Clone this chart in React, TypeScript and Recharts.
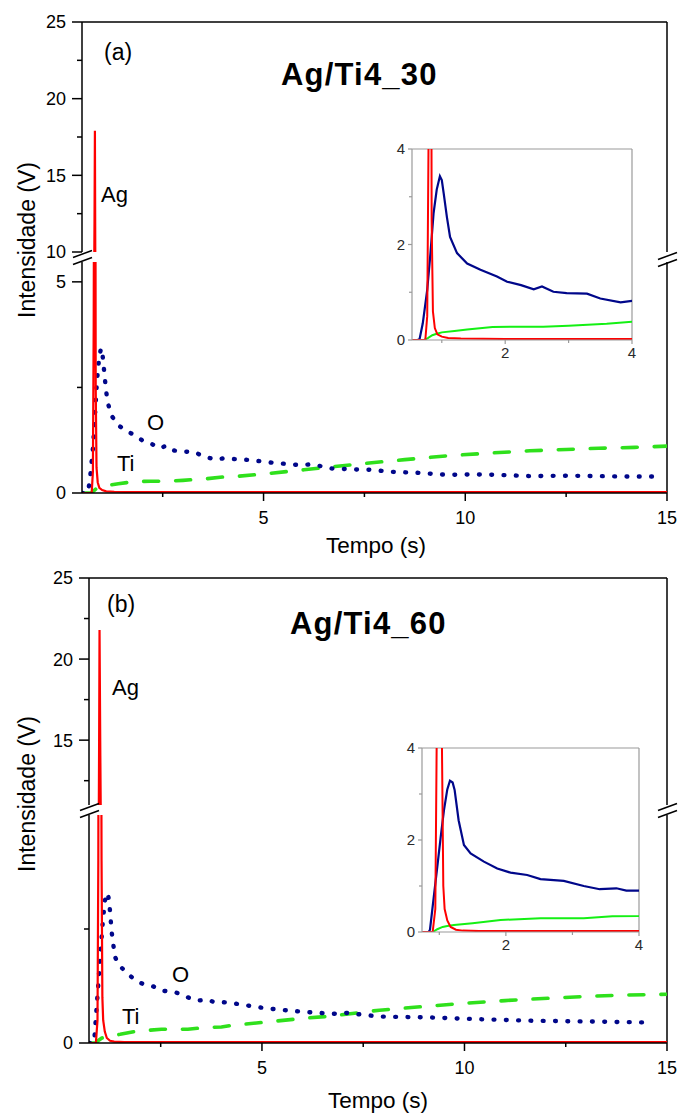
import React from 'react';
import { LineChart, Line, XAxis, YAxis, ReferenceLine } from 'recharts';

const FONT = '"Liberation Sans", Arial, Helvetica, sans-serif';
const W = 678;

// ---------- Panel (a) Ag/Ti4_30 ----------
const agA_t = [0.5, 0.74, 0.77, 0.79, 0.81, 0.82, 0.83, 0.84, 0.86, 0.89, 0.93, 1.0, 1.1, 1.3, 2, 4, 6, 8, 10, 12, 14, 15];
const agA_v = [0, 0, 0.5, 4, 12, 17.9, 9, 2.5, 0.6, 0.25, 0.12, 0.07, 0.04, 0.03, 0.02, 0.02, 0.02, 0.02, 0.02, 0.02, 0.02, 0.02];

const oA_t = [0.5, 0.62, 0.65, 0.7, 0.77, 0.82, 0.87, 0.92, 0.97, 1.0, 1.03, 1.08, 1.13, 1.24, 1.4, 1.61, 1.87, 2.03, 2.25, 2.45, 2.58, 2.76, 2.97, 3.29, 3.5, 3.82, 4.0, 4.68, 5.2, 5.9, 6.2, 6.7, 7.2, 7.65, 8.2, 8.8, 9.55, 10.2, 10.8, 11.6, 12.5, 13.3, 14.0, 14.8];
const oA_v = [0, 0, 0.02, 0.35, 1.05, 1.8, 2.65, 3.15, 3.43, 3.35, 3.07, 2.58, 2.16, 1.82, 1.6, 1.47, 1.33, 1.22, 1.15, 1.06, 1.12, 1.01, 0.98, 0.97, 0.87, 0.79, 0.82, 0.78, 0.72, 0.66, 0.68, 0.58, 0.56, 0.55, 0.5, 0.48, 0.43, 0.44, 0.43, 0.4, 0.41, 0.4, 0.39, 0.39];

const tiA_t = [0.5, 0.72, 0.78, 0.85, 0.92, 1.0, 1.2, 1.4, 1.8, 2.2, 2.6, 3.0, 3.6, 4.0, 4.3, 5.0, 6.0, 6.7, 7.5, 8.5, 9.55, 10.5, 11.6, 12.5, 13.3, 14.2, 15];
const tiA_v = [0, 0, 0.04, 0.1, 0.13, 0.16, 0.19, 0.22, 0.27, 0.28, 0.28, 0.3, 0.34, 0.38, 0.39, 0.45, 0.55, 0.62, 0.7, 0.79, 0.88, 0.94, 1.0, 1.03, 1.06, 1.08, 1.11];

// ---------- Panel (b) Ag/Ti4_60 ----------
const agB_t = [0.73, 0.9, 0.94, 0.96, 0.98, 0.99, 1.01, 1.04, 1.06, 1.08, 1.12, 1.17, 1.25, 1.35, 1.6, 2, 4, 6, 8, 10, 12, 14, 15];
const agB_v = [0, 0, 0.5, 4, 15, 21.8, 14, 4, 1.0, 0.5, 0.25, 0.11, 0.05, 0.03, 0.02, 0.02, 0.02, 0.02, 0.02, 0.02, 0.02, 0.02, 0.02];

const oB_t = [0.73, 0.84, 0.86, 0.92, 0.97, 1.02, 1.07, 1.12, 1.16, 1.2, 1.23, 1.29, 1.37, 1.47, 1.67, 1.87, 2.07, 2.32, 2.52, 2.87, 3.17, 3.41, 3.66, 3.81, 4.0, 4.29, 5.1, 5.94, 6.75, 7.09, 7.9, 8.5, 9.14, 10.4, 11.6, 12.4, 13.2, 14.56];
const oB_v = [0, 0, 0.05, 0.8, 1.42, 2.05, 2.65, 3.1, 3.29, 3.25, 3.09, 2.43, 1.89, 1.71, 1.53, 1.38, 1.29, 1.24, 1.15, 1.11, 1.0, 0.93, 0.95, 0.9, 0.9, 0.87, 0.76, 0.69, 0.64, 0.66, 0.58, 0.57, 0.56, 0.52, 0.49, 0.48, 0.47, 0.45];

const tiB_t = [0.73, 0.9, 0.97, 1.05, 1.12, 1.22, 1.5, 1.92, 2.52, 3.17, 3.6, 4.0, 4.29, 5.0, 6.0, 6.7, 7.9, 9.0, 9.96, 11.0, 11.6, 13.2, 14.0, 15];
const tiB_v = [0, 0, 0.06, 0.11, 0.13, 0.15, 0.19, 0.26, 0.3, 0.3, 0.34, 0.35, 0.39, 0.45, 0.54, 0.59, 0.72, 0.8, 0.87, 0.93, 0.96, 1.03, 1.05, 1.07];

// ---------- ticks ----------
const mainXTicks = [2.5, 5, 7.5, 10, 12.5, 15];
const mainXMajors = [5, 10, 15];
const upATicks = [10, 12.5, 15, 17.5, 20, 22.5, 25];
const upAMajors = [10, 15, 20, 25];
const loATicks = [0, 2.5, 5];
const loAMajors = [0, 5];
const upBTicks = [12.5, 15, 17.5, 20, 22.5, 25];
const upBMajors = [15, 20, 25];
const loBTicks = [0, 2.5];
const loBMajors = [0];
const insetXTicks = [1, 2, 3, 4];
const insetXMajors = [2, 4];
const insetYTicks = [0, 1, 2, 3, 4];
const insetYMajors = [0, 2, 4];

type Pt = { t: number; v: number };
const zip = (t: number[], v: number[]): Pt[] => t.map((x, i) => ({ t: x, v: v[i] }));

const dataA = { ag: zip(agA_t, agA_v), o: zip(oA_t, oA_v), ti: zip(tiA_t, tiA_v) };
const dataB = { ag: zip(agB_t, agB_v), o: zip(oB_t, oB_v), ti: zip(tiB_t, tiB_v) };

const RED = '#ff0000';
const BLUE = '#00078a';
const GREEN_MAIN = '#2fe01c';
const GREEN_INSET = '#14f014';

function makeYTick(majors: number[], majorLen: number, minorLen: number, gap: number, fs: number, stroke: string, fill: string, sw: number) {
  return (props: any) => {
    const { x, y, payload } = props;
    const v = payload.value;
    const major = majors.includes(v);
    return (
      <g>
        <line x1={x - (major ? majorLen : minorLen)} x2={x} y1={y} y2={y} stroke={stroke} strokeWidth={sw} />
        {major && (
          <text x={x - gap} y={y + fs * 0.36} textAnchor="end" fontSize={fs} fill={fill} fontFamily={FONT}>
            {v}
          </text>
        )}
      </g>
    );
  };
}

function makeXTick(majors: number[], majorLen: number, minorLen: number, base: number, fs: number, stroke: string, fill: string, sw: number) {
  return (props: any) => {
    const { x, y, payload } = props;
    const v = payload.value;
    const major = majors.includes(v);
    return (
      <g>
        <line x1={x} x2={x} y1={y} y2={y + (major ? majorLen : minorLen)} stroke={stroke} strokeWidth={sw} />
        {major && (
          <text x={x} y={y + base} textAnchor="middle" fontSize={fs} fill={fill} fontFamily={FONT}>
            {v}
          </text>
        )}
      </g>
    );
  };
}

interface SegProps {
  top: number;
  bottom: number;
  left: number;
  right: number;
  xDomain: [number, number];
  yDomain: [number, number];
  yTicks: number[];
  yMajors: number[];
  showX: boolean;
  topBorder: boolean;
  data: { ag: Pt[]; o: Pt[]; ti: Pt[] };
  agOnly: boolean;
}

function Segment(p: SegProps) {
  const padTop = 16;
  const xH = 60;
  const padBottom = p.showX ? 0 : 16;
  const h = p.bottom - p.top + padTop + padBottom + (p.showX ? xH : 0);
  const yTick = makeYTick(p.yMajors, 10, 5, 16, 18, '#000', '#000', 1.5);
  const xTick = makeXTick(mainXMajors, 8, 4, 31, 18, '#000', '#000', 1.5);
  const lines: React.ReactNode[] = [];
  if (!p.agOnly) {
    lines.push(
      <Line key="ti" data={p.data.ti} dataKey="v" type="linear" stroke={GREEN_MAIN} strokeWidth={3.6}
        strokeDasharray="15 17" strokeLinecap="round" dot={false} activeDot={false} isAnimationActive={false} />
    );
    lines.push(
      <Line key="o" data={p.data.o} dataKey="v" type="linear" stroke={BLUE} strokeWidth={4.4}
        strokeDasharray="0.8 11.5" strokeLinecap="round" dot={false} activeDot={false} isAnimationActive={false} />
    );
  }
  lines.push(
    <Line key="ag" data={p.data.ag} dataKey="v" type="linear" stroke={RED} strokeWidth={2.2}
      dot={false} activeDot={false} isAnimationActive={false} />
  );
  return (
    <div style={{ position: 'absolute', left: 0, top: p.top - padTop, width: W, height: h }}>
      <LineChart width={W} height={h} margin={{ top: padTop, right: W - p.right, bottom: padBottom, left: 0 }}>
        <XAxis type="number" dataKey="t" domain={p.xDomain} allowDataOverflow hide={!p.showX}
          height={p.showX ? xH : 0} ticks={mainXTicks} interval={0} tickSize={0} tickMargin={0}
          tickLine={false} tick={xTick} axisLine={{ stroke: '#000', strokeWidth: 1.5 }} />
        <YAxis type="number" domain={p.yDomain} allowDataOverflow width={p.left} ticks={p.yTicks}
          interval={0} tickSize={0} tickMargin={0} tickLine={false} tick={yTick}
          axisLine={{ stroke: '#000', strokeWidth: 1.5 }} />
        {p.topBorder && <ReferenceLine y={p.yDomain[1]} stroke="#000" strokeWidth={1.5} />}
        <ReferenceLine x={p.xDomain[1]} stroke="#000" strokeWidth={1.5} />
        {lines}
      </LineChart>
    </div>
  );
}

interface InsetProps {
  left: number;
  right: number;
  top: number;
  bottom: number;
  xDomain: [number, number];
  data: { ag: Pt[]; o: Pt[]; ti: Pt[] };
}

function Inset(p: InsetProps) {
  const padL = 40;
  const padT = 10;
  const padR = 10;
  const xH = 26;
  const w = p.right - p.left + padL + padR;
  const h = p.bottom - p.top + padT + xH;
  const GRAY = '#9a9a9a';
  const yTick = makeYTick(insetYMajors, 4, 3, 7, 15, GRAY, '#2a2a2a', 1.2);
  const xTick = makeXTick(insetXMajors, 4, 3, 18, 15, GRAY, '#2a2a2a', 1.2);
  return (
    <div style={{ position: 'absolute', left: p.left - padL, top: p.top - padT, width: w, height: h }}>
      <LineChart width={w} height={h} margin={{ top: padT, right: padR, bottom: 0, left: 0 }}>
        <XAxis type="number" dataKey="t" domain={p.xDomain} allowDataOverflow height={xH} ticks={insetXTicks}
          interval={0} tickSize={0} tickMargin={0} tickLine={false} tick={xTick}
          axisLine={{ stroke: GRAY, strokeWidth: 1.2 }} />
        <YAxis type="number" domain={[0, 4]} allowDataOverflow width={padL} ticks={insetYTicks}
          interval={0} tickSize={0} tickMargin={0} tickLine={false} tick={yTick}
          axisLine={{ stroke: GRAY, strokeWidth: 1.2 }} />
        <ReferenceLine y={4} stroke={GRAY} strokeWidth={1.2} />
        <ReferenceLine x={4} stroke={GRAY} strokeWidth={1.2} />
        <Line data={p.data.ti} dataKey="v" type="linear" stroke={GREEN_INSET} strokeWidth={2}
          dot={false} activeDot={false} isAnimationActive={false} />
        <Line data={p.data.o} dataKey="v" type="linear" stroke={BLUE} strokeWidth={2.2}
          dot={false} activeDot={false} isAnimationActive={false} />
        <Line data={p.data.ag} dataKey="v" type="linear" stroke={RED} strokeWidth={2}
          dot={false} activeDot={false} isAnimationActive={false} />
      </LineChart>
    </div>
  );
}

function BreakMarks({ x, y }: { x: number; y: number }) {
  return (
    <g stroke="#000" strokeWidth={1.5}>
      <line x1={x - 9} y1={y - 0.5} x2={x + 10} y2={y - 7.5} />
      <line x1={x - 9} y1={y + 6.5} x2={x + 10} y2={y - 0.5} />
    </g>
  );
}

function Overlay() {
  const t = { fontFamily: FONT, fill: '#000' } as const;
  return (
    <svg width={W} height={1117} style={{ position: 'absolute', left: 0, top: 0, pointerEvents: 'none' }}>
      {/* panel a */}
      <text x={104} y={60} fontSize={23} {...t}>(a)</text>
      <text x={281} y={85} fontSize={31} fontWeight="bold" letterSpacing={1.2} {...t}>Ag/Ti4_30</text>
      <text x={101} y={202} fontSize={22} {...t}>Ag</text>
      <text x={147} y={430} fontSize={22} {...t}>O</text>
      <text x={117} y={471} fontSize={22} {...t}>Ti</text>
      <text x={0} y={0} fontSize={23} textAnchor="middle" dominantBaseline="central" transform="translate(27,240) rotate(-90)" {...t}>Intensidade (V)</text>
      <text x={376} y={553} fontSize={22.5} textAnchor="middle" {...t}>Tempo (s)</text>
      <BreakMarks x={82} y={258} />
      <BreakMarks x={667} y={260} />
      {/* panel b */}
      <text x={107} y={612} fontSize={23} {...t}>(b)</text>
      <text x={290} y={634} fontSize={31} fontWeight="bold" letterSpacing={1.2} {...t}>Ag/Ti4_60</text>
      <text x={112} y={695} fontSize={22} {...t}>Ag</text>
      <text x={172} y={982} fontSize={22} {...t}>O</text>
      <text x={122} y={1024} fontSize={22} {...t}>Ti</text>
      <text x={0} y={0} fontSize={23} textAnchor="middle" dominantBaseline="central" transform="translate(27,794) rotate(-90)" {...t}>Intensidade (V)</text>
      <text x={378} y={1108} fontSize={22.5} textAnchor="middle" {...t}>Tempo (s)</text>
      <BreakMarks x={89} y={811} />
      <BreakMarks x={667} y={811} />
    </svg>
  );
}

export default function App() {
  return (
    <div style={{ position: 'absolute', left: 0, top: 0, width: W, height: 1117, background: '#fff', overflow: 'hidden' }}>
      <Segment top={22} bottom={252} left={82} right={667} xDomain={[0.5, 15]} yDomain={[10, 25]}
        yTicks={upATicks} yMajors={upAMajors} showX={false} topBorder={true} data={dataA} agOnly={true} />
      <Segment top={262} bottom={493} left={82} right={667} xDomain={[0.5, 15]} yDomain={[0, 5.47]}
        yTicks={loATicks} yMajors={loAMajors} showX={true} topBorder={false} data={dataA} agOnly={false} />
      <Inset left={412} right={632} top={149} bottom={340} xDomain={[0.53, 4]} data={dataA} />

      <Segment top={578} bottom={805} left={89} right={667} xDomain={[0.73, 15]} yDomain={[11, 25]}
        yTicks={upBTicks} yMajors={upBMajors} showX={false} topBorder={true} data={dataB} agOnly={true} />
      <Segment top={815} bottom={1043} left={89} right={667} xDomain={[0.73, 15]} yDomain={[0, 5]}
        yTicks={loBTicks} yMajors={loBMajors} showX={true} topBorder={false} data={dataB} agOnly={false} />
      <Inset left={422} right={639} top={748} bottom={932} xDomain={[0.74, 4]} data={dataB} />

      <Overlay />
    </div>
  );
}
